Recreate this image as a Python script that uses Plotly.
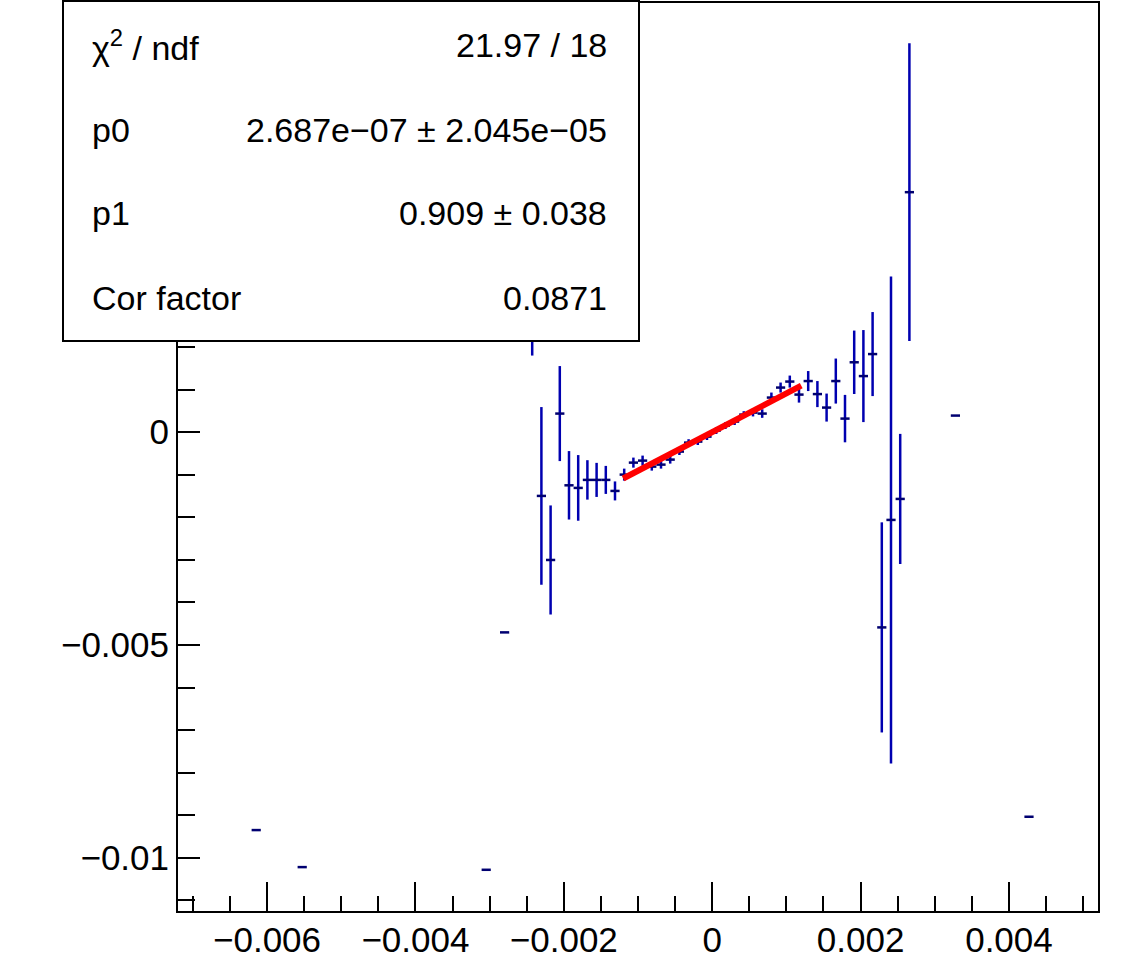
import plotly.graph_objects as go

# ---- profile histogram definition (100 bins) ----
x_min, x_max, n_bins = -0.0072, 0.0052, 100
bin_width = (x_max - x_min) / n_bins

# filled bins (index), bin mean and error on the mean
bin_index = [8, 13, 33, 35,
             38, 39, 40, 41, 42, 43, 44, 45, 46, 47,
             48, 49, 50, 51, 52, 53, 54, 55, 56, 57,
             58, 59, 60, 61, 62, 63, 64, 65, 66, 67,
             68, 69, 70, 71, 72, 73, 74, 75, 76, 77,
             78, 79, 84, 92]
bin_mean = [-0.009349, -0.010219, -0.010282, -0.004705,
            0.002738, -0.001499, -0.003004, 0.000435, -0.001250, -0.001311, -0.001123, -0.001123, -0.001123, -0.001382,
            -0.000999, -0.000717, -0.000670, -0.000811, -0.000764, -0.000646, -0.000458, -0.000247, -0.000223, -0.000106,
            0.000035, 0.000153, 0.000247, 0.000411, 0.000458, 0.000435, 0.000811, 0.001046, 0.001187, 0.000881,
            0.001199, 0.000893, 0.000576, 0.001199, 0.000317, 0.001640, 0.001316, 0.001833, -0.004588, -0.002063,
            -0.001570, 0.005636, 0.000388, -0.009036]
bin_error = [0.0, 0.0, 0.0, 0.0,
             0.000940, 0.002087, 0.001281, 0.001116, 0.000804, 0.000771, 0.000463, 0.000400, 0.000329, 0.000223,
             0.000141, 0.000118, 0.000118, 0.000094, 0.000094, 0.000094, 0.000080, 0.000080, 0.000080, 0.000080,
             0.000080, 0.000080, 0.000080, 0.000080, 0.000090, 0.000100, 0.000118, 0.000118, 0.000141, 0.000188,
             0.000235, 0.000306, 0.000329, 0.000529, 0.000557, 0.000745, 0.001081, 0.000987, 0.002468, 0.005720,
             0.001528, 0.003497, 0.0, 0.0]

# ---- linear fit result ----
p0, p1 = 2.687e-07, 0.909
fit_lo, fit_hi = -0.0012, 0.0012

# ---- stat box text ----
stat_labels = ["χ<sup>2</sup> / ndf", "p0", "p1", "Cor factor"]
stat_values = ["21.97 / 18", "2.687e−07 ± 2.045e−05", "0.909 ± 0.038", "0.0871"]

x_tickvals = [-0.006, -0.004, -0.002, 0, 0.002, 0.004]
x_ticktext = ["−0.006", "−0.004", "−0.002", "0", "0.002", "0.004"]
y_tickvals = [-0.01, -0.005, 0]
y_ticktext = ["−0.01", "−0.005", "0"]
y_range = [-0.01125, 0.01008]

centers = [x_min + (b + 0.5) * bin_width for b in bin_index]

FONT = "Liberation Sans, Arial, Helvetica, sans-serif"
W, H = 1131, 969
ML, MR, MT, MB = 178, 33, 3, 58
PW, PH = W - ML - MR, H - MT - MB


def px(xpix):
    return (xpix - ML) / PW


def py(ypix):
    return (H - MB - ypix) / PH


fig = go.Figure()
fig.add_trace(go.Scatter(
    x=centers, y=bin_mean, mode="markers",
    marker=dict(size=1, color="#000080"),
    error_x=dict(type="constant", value=bin_width / 2, width=0, thickness=2.5, color="#000070"),
    error_y=dict(type="data", array=bin_error, width=0, thickness=2.5, color="#0000b0"),
    showlegend=False, hoverinfo="skip",
))
fig.add_trace(go.Scatter(
    x=[fit_lo, fit_hi], y=[p0 + p1 * fit_lo, p0 + p1 * fit_hi],
    mode="lines", line=dict(color="#ff0000", width=6),
    showlegend=False, hoverinfo="skip",
))

fig.update_layout(
    width=W, height=H, autosize=False,
    margin=dict(l=ML, r=MR, t=MT, b=MB, pad=0),
    paper_bgcolor="white", plot_bgcolor="white",
    font=dict(family=FONT, color="black"),
    showlegend=False,
)
fig.update_xaxes(
    range=[x_min, x_max], showgrid=False, zeroline=False,
    showline=True, linecolor="black", linewidth=2, mirror=True,
    ticks="inside", ticklen=29, tickwidth=2, tickcolor="black",
    tickmode="array", tickvals=x_tickvals, ticktext=x_ticktext,
    tickfont=dict(size=35, family=FONT, color="black"),
    ticklabelstandoff=-3,
    minor=dict(tickmode="linear", tick0=0, dtick=0.0005, ticks="inside",
               ticklen=15, tickwidth=2, tickcolor="black", showgrid=False),
    automargin=False,
)
fig.update_yaxes(
    range=y_range, showgrid=False, zeroline=False,
    showline=True, linecolor="black", linewidth=2, mirror=True,
    ticks="inside", ticklen=22, tickwidth=2, tickcolor="black",
    tickmode="array", tickvals=y_tickvals, ticktext=y_ticktext,
    tickfont=dict(size=35, family=FONT, color="black"),
    ticklabelstandoff=0,
    minor=dict(tickmode="linear", tick0=0, dtick=0.001, ticks="inside",
               ticklen=17, tickwidth=2, tickcolor="black", showgrid=False),
    automargin=False,
)

# stat box
fig.add_shape(type="rect", xref="paper", yref="paper",
              x0=px(63), x1=px(639), y0=py(341), y1=py(1),
              line=dict(color="black", width=2), fillcolor="white", layer="above")
row_y = [45, 130, 213, 298]
for lab, val, yy in zip(stat_labels, stat_values, row_y):
    fig.add_annotation(xref="paper", yref="paper", x=px(90), y=py(yy), text=lab,
                       showarrow=False, xanchor="left", yanchor="middle",
                       font=dict(size=34, family=FONT, color="black"))
    fig.add_annotation(xref="paper", yref="paper", x=px(609), y=py(yy), text=val,
                       showarrow=False, xanchor="right", yanchor="middle",
                       font=dict(size=34, family=FONT, color="black"))

fig.write_html("out.html",
               config={"displayModeBar": False},
               post_script="document.body.style.margin='0';document.body.style.padding='0';")
